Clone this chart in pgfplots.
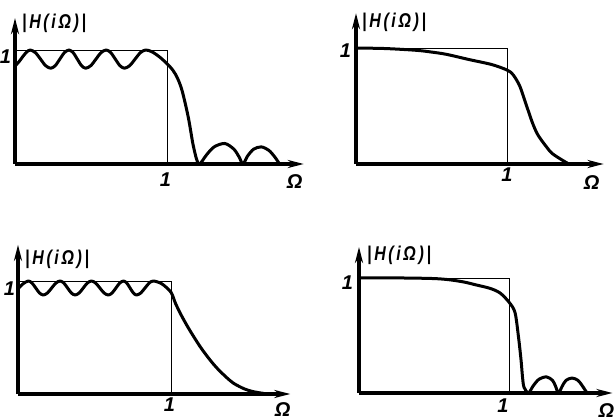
\documentclass[border=0pt]{standalone}
\usepackage{pgfplots}
\pgfplotsset{compat=1.18}
\usetikzlibrary{arrows.meta}
\usepackage{fontspec}
\setmainfont{Liberation Sans}

\newcommand{\lblfont}{\fontsize{20}{20}\selectfont\bfseries\itshape}
\newcommand{\habs}{\scalebox{0.8}[1]{|\,H\,(\,i\,Ω\,)\,|}}

\pgfplotsset{
  resp/.style={hide axis, enlargelimits=false, xmin=0, ymin=0,
    clip=false, anchor=south west},
  curve/.style={line width=3bp, smooth, tension=0.5, line join=round},
  box/.style={line width=0.9bp},
}
\tikzset{axarrow/.style={draw=black, line width=3.4bp, -{Stealth[length=16bp,width=8bp]}}}

\begin{document}
\begin{tikzpicture}
\path[use as bounding box] (0,0) rectangle (616bp,420bp);

% top left: elliptic
\begin{axis}[resp, at={(15bp,256bp)}, x=152bp, y=114bp, xmax=1.9, ymax=1.28]
\addplot[axarrow] coordinates {(0,0) (1.9,0)};
\addplot[axarrow] coordinates {(0,0) (0,1.28)};
\addplot[box] coordinates {(0,1) (1,1) (1,0)};
\addplot[curve] coordinates {(0,0.86) (0.025,0.895) (0.05,0.94) (0.075,0.98) (0.10,1.0)
 (0.134,0.977) (0.168,0.92) (0.201,0.863) (0.235,0.84)
 (0.265,0.863) (0.295,0.92) (0.325,0.977) (0.355,1.0)
 (0.3825,0.977) (0.41,0.92) (0.4375,0.863) (0.465,0.84)
 (0.499,0.863) (0.5325,0.92) (0.566,0.977) (0.60,1.0)
 (0.63,0.977) (0.66,0.92) (0.69,0.863) (0.72,0.84)
 (0.755,0.863) (0.79,0.92) (0.825,0.977) (0.86,1.0)
 (0.90,0.985) (0.95,0.94) (1.0,0.88) (1.04,0.82) (1.07,0.75) (1.10,0.64) (1.14,0.41) (1.17,0.18) (1.195,0.04) (1.215,0)
 (1.26,0.08) (1.31,0.15) (1.38,0.18) (1.44,0.13) (1.475,0.06) (1.50,0)
 (1.53,0.07) (1.57,0.13) (1.62,0.15) (1.67,0.12) (1.71,0.06) (1.74,0)};
\node[font=\lblfont] at (axis cs:0.99,-0.14) {1};
\node[font=\lblfont] at (axis cs:-0.063,0.94) {1};
\node[font=\lblfont] at (axis cs:1.84,-0.15) {Ω};
\node[font=\lblfont, anchor=west, inner sep=0pt] at (axis cs:0.046,1.23) {\habs};
\end{axis}

% top right: Butterworth
\begin{axis}[resp, at={(356bp,256bp)}, x=151bp, y=116bp, xmax=1.64, ymax=1.30]
\addplot[axarrow] coordinates {(0,0) (1.64,0)};
\addplot[axarrow] coordinates {(0,0) (0,1.30)};
\addplot[box] coordinates {(0,1) (1,1) (1,0)};
\addplot[curve] coordinates {(0,1.0) (0.2,0.995) (0.4,0.98) (0.5,0.965) (0.6,0.945) (0.75,0.90) (0.9,0.857) (1.0,0.81) (1.04,0.77) (1.085,0.67) (1.13,0.50) (1.17,0.35) (1.205,0.25) (1.26,0.15) (1.30,0.09) (1.37,0.03) (1.41,0)};
\node[font=\lblfont] at (axis cs:1.0,-0.09) {1};
\node[font=\lblfont] at (axis cs:-0.07,0.98) {1};
\node[font=\lblfont] at (axis cs:1.56,-0.16) {Ω};
\node[font=\lblfont, anchor=west, inner sep=0pt] at (axis cs:0.04,1.22) {\habs};
\end{axis}

% bottom left: Chebyshev
\begin{axis}[resp, at={(18bp,26bp)}, x=153bp, y=113bp, xmax=1.78, ymax=1.32]
\addplot[axarrow] coordinates {(0,0) (1.78,0)};
\addplot[axarrow] coordinates {(0,0) (0,1.32)};
\addplot[box] coordinates {(0,1) (1,1) (1,0)};
\addplot[curve] coordinates {(0,0.93) (0.033,0.975) (0.067,1.0)
 (0.0915,0.982) (0.116,0.938) (0.1405,0.894) (0.165,0.876)
 (0.1925,0.894) (0.22,0.938) (0.2475,0.982) (0.275,1.0)
 (0.2995,0.982) (0.324,0.938) (0.3485,0.894) (0.373,0.876)
 (0.40,0.894) (0.4265,0.938) (0.453,0.982) (0.48,1.0)
 (0.5075,0.982) (0.535,0.938) (0.5625,0.894) (0.59,0.876)
 (0.615,0.894) (0.64,0.938) (0.665,0.982) (0.69,1.0)
 (0.711,0.982) (0.7325,0.938) (0.754,0.894) (0.775,0.876)
 (0.8025,0.894) (0.83,0.938) (0.8575,0.982) (0.885,1.0)
 (0.94,0.975) (1.0,0.90) (1.03,0.80) (1.07,0.69) (1.12,0.57) (1.19,0.42) (1.25,0.31) (1.30,0.23) (1.36,0.15) (1.41,0.094) (1.48,0.045) (1.54,0.02) (1.63,0)};
\node[font=\lblfont] at (axis cs:0.99,-0.093) {1};
\node[font=\lblfont] at (axis cs:-0.056,0.93) {1};
\node[font=\lblfont] at (axis cs:1.73,-0.14) {Ω};
\node[font=\lblfont, anchor=west, inner sep=0pt] at (axis cs:0.046,1.19) {\habs};
\end{axis}

% bottom right: inverse Chebyshev
\begin{axis}[resp, at={(359bp,27bp)}, x=150bp, y=115bp, xmax=1.69, ymax=1.27]
\addplot[axarrow] coordinates {(0,0) (1.69,0)};
\addplot[axarrow] coordinates {(0,0) (0,1.27)};
\addplot[box] coordinates {(0,1) (1,1) (1,0)};
\addplot[curve] coordinates {(0,1.0) (0.3,1.0) (0.5,0.995) (0.6,0.985) (0.7,0.965) (0.78,0.94) (0.873,0.91) (0.94,0.87) (1.0,0.79) (1.04,0.70) (1.063,0.49) (1.08,0.29) (1.09,0.14) (1.10,0.05) (1.13,0)
 (1.16,0.06) (1.20,0.12) (1.25,0.14) (1.29,0.11) (1.31,0.06) (1.33,0)
 (1.355,0.06) (1.38,0.11) (1.42,0.13) (1.46,0.11) (1.49,0.06) (1.52,0)};
\node[font=\lblfont] at (axis cs:0.96,-0.11) {1};
\node[font=\lblfont] at (axis cs:-0.077,0.96) {1};
\node[font=\lblfont] at (axis cs:1.65,-0.15) {Ω};
\node[font=\lblfont, anchor=west, inner sep=0pt] at (axis cs:0.053,1.20) {\habs};
\end{axis}
\end{tikzpicture}
\end{document}
